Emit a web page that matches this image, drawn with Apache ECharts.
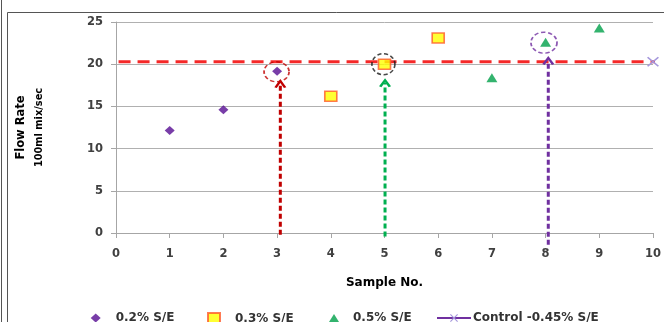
<!DOCTYPE html>
<html>
<head>
<meta charset="utf-8">
<script src="https://cdn.jsdelivr.net/npm/echarts@6/dist/echarts.min.js"></script>
<style>
  html, body { margin: 0; padding: 0; background: #fff; }
  #chart { width: 664px; height: 322px; }
</style>
</head>
<body>
<div id="chart"></div>
<script>
// Flow rate per sample for each S/E dosage
const samples02 = [1, 2, 3];
const flow02 = [12.15, 14.6, 19.15];
const samples03 = [4, 5, 6];
const flow03 = [16.2, 20.0, 23.1];
const samples05 = [7, 8, 9];
const flow05 = [18.4, 22.6, 24.3];
const samplesControl = [10];
const flowControl = [20.3];

// Reference level of the control mix
const controlLevel = 20.3;
const controlLevelSpan = [-0.66, 10.2];

// Highlighted samples: [sample, flow] of each ringed point
const ringed = [[2.99, 19.1], [4.98, 20.0], [7.97, 22.55]];
// Pointer columns: [sample, from flow, to flow]
const pointers = [[3.06, -0.2, 17.7], [5.01, -0.4, 17.8], [8.05, -1.4, 20.45]];

const legendNames = ['0.2% S/E', '0.3% S/E', '0.5% S/E', 'Control -0.45% S/E'];

const FONT = 'DejaVu Sans';
const chevron = 'path://M0,9 L6,0 L12,9 L9.6,10 L6,4.4 L2.4,10 Z';
const cross = 'path://M0,1 L1,0 L5,4 L9,0 L10,1 L6,5 L10,9 L9,10 L5,6 L1,10 L0,9 L4,5 Z';

const pair = (xs, ys) => xs.map((x, i) => [x, ys[i]]);

const ringColors = ['#c00000', '#1a1a1a', '#7030a0'];
const ringSizes = [[25, 20], [23, 21], [26, 21]];
const pointerColors = ['#c00000', '#00b050', '#7030a0'];

const series = [
  {
    name: legendNames[0], type: 'scatter', symbol: 'diamond', symbolSize: [10, 9],
    itemStyle: { color: '#560c92' }, data: pair(samples02, flow02), z: 5
  },
  {
    name: legendNames[1], type: 'scatter', symbol: 'rect', symbolSize: [12, 10],
    itemStyle: { color: '#ffff00', borderColor: '#ff5a2a', borderWidth: 1.5 },
    data: pair(samples03, flow03), z: 5
  },
  {
    name: legendNames[2], type: 'scatter', symbol: 'triangle', symbolSize: [11, 9],
    itemStyle: { color: '#00a04a' }, data: pair(samples05, flow05), z: 5
  },
  {
    name: legendNames[3], type: 'line', symbol: cross, symbolSize: [12, 10],
    clip: false, showSymbol: true,
    itemStyle: { color: '#a597dc' }, lineStyle: { color: '#7030a0', width: 2.5 },
    data: pair(samplesControl, flowControl), z: 4
  },
  {
    name: 'level', type: 'line', clip: false, symbol: 'none', silent: true,
    lineStyle: { color: '#f52828', width: 3, type: [12, 7] },
    data: controlLevelSpan.map(x => [x, controlLevel]), z: 3
  }
];

ringed.forEach((p, i) => {
  series.push({
    name: 'ring' + i, type: 'scatter', symbol: 'circle', symbolSize: ringSizes[i],
    silent: true, z: 6,
    itemStyle: { color: 'rgba(0,0,0,0)', borderColor: ringColors[i], borderWidth: 1.6, borderType: [4, 2.5] },
    data: [p]
  });
});

pointers.forEach((p, i) => {
  series.push({
    name: 'pointer' + i, type: 'line', clip: false, silent: true, z: 6,
    showSymbol: true, symbolSize: [12, 9],
    lineStyle: { color: pointerColors[i], width: 3, type: [5, 3] },
    itemStyle: { color: pointerColors[i] },
    data: [
      { value: [p[0], p[1]], symbol: 'none' },
      { value: [p[0], p[2]], symbol: chevron }
    ]
  });
});

// legend item placement: left edge, icon width, icon height, text offset
const legendLeft = [90.7, 207, 329, 436];
const legendIconW = [10, 12, 10, 34];
const legendIconH = [9, 11, 8, 10];
const legendTextPad = [10, 10, 9, -3];
const legendIcons = ['diamond', 'rect', 'triangle', null];

const legends = legendNames.map((n, i) => {
  const lg = {
    data: [n], left: legendLeft[i], top: 312,
    itemWidth: legendIconW[i], itemHeight: legendIconH[i],
    itemGap: 0, selectedMode: false, padding: 0,
    textStyle: { fontFamily: FONT, fontSize: 12, fontWeight: 'bold', color: '#333', padding: [0, 0, 0, legendTextPad[i]] }
  };
  if (legendIcons[i]) lg.icon = legendIcons[i];
  return lg;
});

const chart = echarts.init(document.getElementById('chart'), null, { renderer: 'canvas' });
chart.setOption({
  animation: false,
  backgroundColor: '#fff',
  grid: { left: 116, right: 6, top: 22, bottom: 89 },
  xAxis: {
    type: 'value', min: 0, max: 10, interval: 1,
    name: 'Sample No.', nameLocation: 'middle', nameGap: 44,
    nameTextStyle: { fontFamily: FONT, fontSize: 12, fontWeight: 'bold', color: '#000' },
    axisLine: { show: true, lineStyle: { color: '#a6a6a6', width: 1 } },
    axisTick: { show: true, length: 5, lineStyle: { color: '#a6a6a6' } },
    axisLabel: { fontFamily: FONT, fontSize: 11.5, fontWeight: 'bold', color: '#404040', margin: 15 },
    splitLine: { show: false }
  },
  yAxis: {
    type: 'value', min: 0, max: 25, interval: 5,
    name: '{a|Flow Rate}\n{b|100ml mix/sec}', nameLocation: 'middle', nameGap: 68, nameRotate: 90,
    nameTextStyle: {
      fontFamily: FONT, fontWeight: 'bold', color: '#000', lineHeight: 18, align: 'center',
      rich: {
        a: { fontFamily: FONT, fontSize: 11.5, fontWeight: 'bold', color: '#000', lineHeight: 18 },
        b: { fontFamily: FONT, fontSize: 9.8, fontWeight: 'bold', color: '#000', lineHeight: 18 }
      }
    },
    axisLine: { show: true, lineStyle: { color: '#a6a6a6', width: 1 } },
    axisTick: { show: true, length: 5, lineStyle: { color: '#a6a6a6' } },
    axisLabel: { fontFamily: FONT, fontSize: 11.5, fontWeight: 'bold', color: '#404040', margin: 13 },
    splitLine: { show: true, lineStyle: { color: '#b0b0b0', width: 1 } }
  },
  legend: legends,
  graphic: [
    { type: 'rect', shape: { x: 7.5, y: 12.5, width: 700, height: 400 }, style: { fill: null, stroke: '#555', lineWidth: 1 }, silent: true },
    { type: 'line', shape: { x1: 1.5, y1: 0, x2: 1.5, y2: 322 }, style: { stroke: '#555', lineWidth: 1 }, silent: true }
  ],
  series: series
});
</script>
</body>
</html>
